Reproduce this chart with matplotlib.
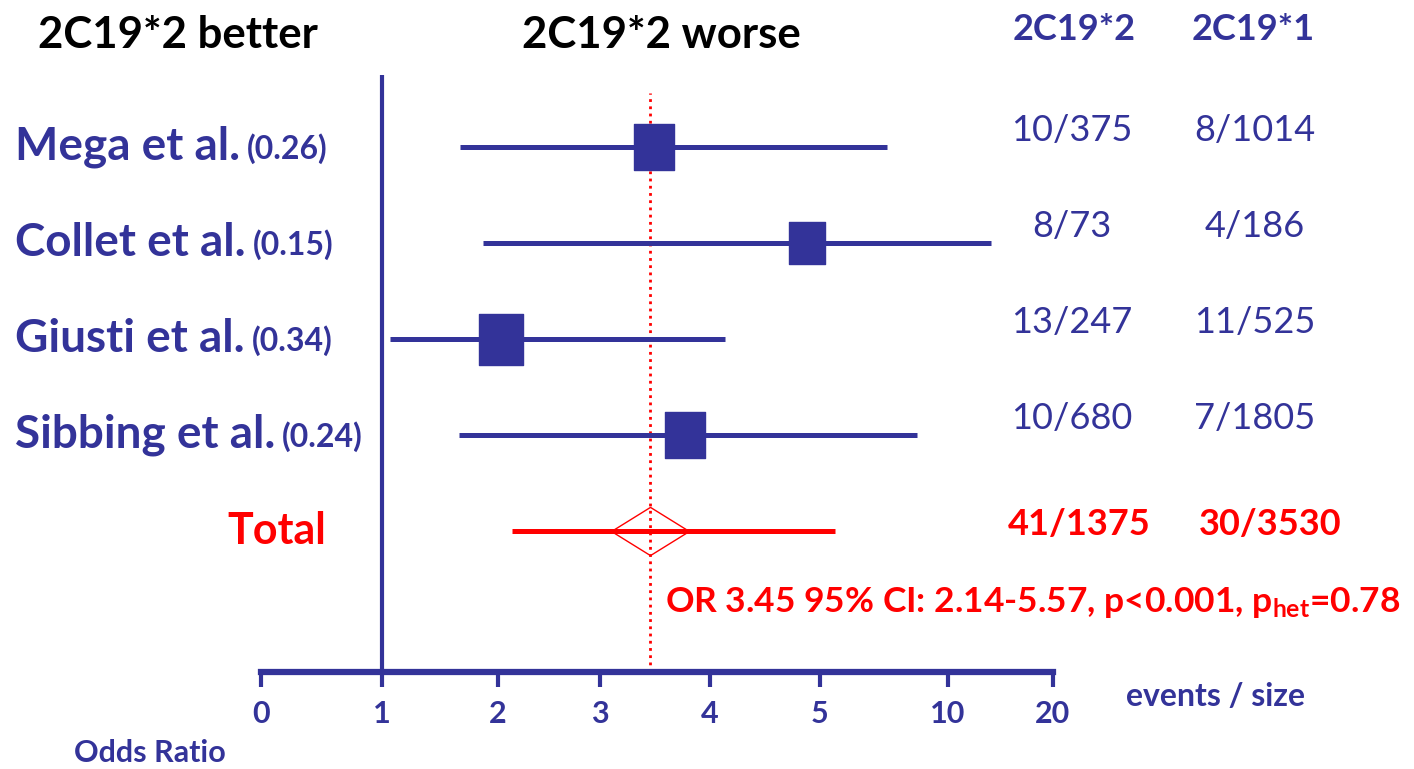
import numpy as np
import matplotlib
matplotlib.use("Agg")
import matplotlib.pyplot as plt
from matplotlib.path import Path
from matplotlib.ticker import FixedLocator, FixedFormatter
from matplotlib.transforms import blended_transform_factory

# study rows (top to bottom)
studies = ["Mega et al.", "Collet et al.", "Giusti et al.", "Sibbing et al."]
weights = [0.26, 0.15, 0.34, 0.24]
odds = [3.49, 4.88, 2.03, 3.77]
ci_low = [1.67, 1.87, 1.07, 1.66]
ci_high = [7.62, 14.1, 4.14, 8.79]
events_star2 = ["10/375", "8/73", "13/247", "10/680"]
events_star1 = ["8/1014", "4/186", "11/525", "7/1805"]

# pooled estimate
total_or = 3.45
total_low = 2.14
total_high = 5.57
total_p = "<0.001"
total_p_het = 0.78
total_star2 = "41/1375"
total_star1 = "30/3530"

tick_values = [0, 1, 2, 3, 4, 5, 10, 20]
tick_labels = ["0", "1", "2", "3", "4", "5", "10", "20"]

# the odds-ratio axis is stretched piecewise, not linear or log
axis_stops = np.array([261, 382, 498, 600, 710, 820, 948, 1053], dtype=float)
axis_stops = (axis_stops - axis_stops[0]) / (axis_stops[-1] - axis_stops[0])


def fwd(v):
    return np.interp(v, tick_values, axis_stops)


def inv(p):
    return np.interp(p, axis_stops, tick_values)


BLUE = "#333399"
RED = "#ff0000"
W, H = 1414, 769

plt.rcParams["font.family"] = ["Lato", "DejaVu Sans"]
plt.rcParams["mathtext.fontset"] = "custom"
plt.rcParams["mathtext.rm"] = "Lato:bold"
plt.rcParams["mathtext.bf"] = "Lato:bold"
plt.rcParams["mathtext.default"] = "bf"

fig = plt.figure(figsize=(W / 100, H / 100), dpi=100)
ax = fig.add_axes([261 / W, 1 - 672 / H, (1053 - 261) / W, (672 - 75) / H])
ax.set_xscale("function", functions=(fwd, inv))
ax.set_xlim(0, 20)
ax.set_ylim(5.47, -0.75)

for s in ["top", "right", "left"]:
    ax.spines[s].set_visible(False)
ax.spines["bottom"].set_linewidth(4.5)
ax.spines["bottom"].set_color(BLUE)
ax.xaxis.set_major_locator(FixedLocator(tick_values))
ax.xaxis.set_major_formatter(FixedFormatter(tick_labels))
ax.xaxis.set_minor_locator(FixedLocator([]))
ax.tick_params(axis="x", direction="out", length=11, width=3, color=BLUE,
               labelcolor=BLUE, labelsize=22, pad=9)
for lab in ax.get_xticklabels():
    lab.set_fontweight("bold")
ax.set_yticks([])
ax.patch.set_alpha(0)

# reference line at OR = 1 and the pooled estimate
ax.axvline(1, color=BLUE, lw=3, zorder=2)
ax.axvline(total_or, ymax=0.97, color=RED, lw=2, ls=(0, (1, 1.6)), zorder=1)

rect = Path([(-0.435, -0.5), (0.435, -0.5), (0.435, 0.5), (-0.435, 0.5), (-0.435, -0.5)],
            [Path.MOVETO, Path.LINETO, Path.LINETO, Path.LINETO, Path.CLOSEPOLY])
diamond = Path([(-1, 0), (0, 0.62), (1, 0), (0, -0.62), (-1, 0)],
               [Path.MOVETO, Path.LINETO, Path.LINETO, Path.LINETO, Path.CLOSEPOLY])

rows = np.arange(len(studies))
for i in rows:
    ax.plot([ci_low[i], ci_high[i]], [i, i], color=BLUE, lw=3.6,
            solid_capstyle="butt", zorder=3)
    size_pt = (34 + 50 * weights[i]) * 0.72
    ax.plot(odds[i], i, marker=rect, ms=size_pt, color=BLUE, mec=BLUE, zorder=4)

ty = len(studies)
ax.plot([total_low, total_high], [ty, ty], color=RED, lw=3.6,
        solid_capstyle="butt", zorder=3)
ax.plot(total_or, ty, marker=diamond, ms=56, mfc="none", mec=RED, mew=1.0, zorder=4)

# row labels and event counts
tr = blended_transform_factory(fig.transFigure, ax.transData)
for i in rows:
    name = ax.text(15 / W, i, studies[i], transform=tr, ha="left", va="center",
                   fontsize=33, fontweight="bold", color=BLUE)
    ax.annotate(f"({weights[i]:.2f})", xy=(1, 0), xycoords=name, xytext=(5, 3),
                textcoords="offset points", ha="left", va="bottom",
                fontsize=23, fontweight="bold", color=BLUE)
    ax.text(1072 / W, i - 0.17, events_star2[i], transform=tr, ha="center",
            va="center", fontsize=26, color=BLUE)
    ax.text(1255 / W, i - 0.17, events_star1[i], transform=tr, ha="center",
            va="center", fontsize=26, color=BLUE)

ax.text(277 / W, ty, "Total", transform=tr, ha="center", va="center",
        fontsize=31, fontweight="bold", color=RED)
ax.text(1079 / W, ty - 0.07, total_star2, transform=tr, ha="center", va="center",
        fontsize=26, fontweight="bold", color=RED)
ax.text(1270 / W, ty - 0.07, total_star1, transform=tr, ha="center", va="center",
        fontsize=26, fontweight="bold", color=RED)

fig.text(665 / W, 1 - 603 / H,
         f"OR {total_or:.2f} 95% CI: {total_low:.2f}-{total_high:.2f}, "
         f"p{total_p}, p$_{{het}}$={total_p_het:.2f}",
         ha="left", va="center", fontsize=25.5, fontweight="bold", color=RED)

# headers
fig.text(178 / W, 1 - 35 / H, "2C19*2 better", ha="center", va="center",
         fontsize=31.5, fontweight="bold", color="black")
fig.text(661 / W, 1 - 35 / H, "2C19*2 worse", ha="center", va="center",
         fontsize=31.5, fontweight="bold", color="black")
fig.text(1074 / W, 1 - 30 / H, "2C19*2", ha="center", va="center",
         fontsize=26, fontweight="bold", color=BLUE)
fig.text(1253 / W, 1 - 30 / H, "2C19*1", ha="center", va="center",
         fontsize=26, fontweight="bold", color=BLUE)
fig.text(1215 / W, 1 - 697 / H, "events / size", ha="center", va="center",
         fontsize=23, fontweight="bold", color=BLUE)
fig.text(150 / W, 1 - 753 / H, "Odds Ratio", ha="center", va="center",
         fontsize=22, fontweight="bold", color=BLUE)

fig.savefig("out.png", dpi=100)
